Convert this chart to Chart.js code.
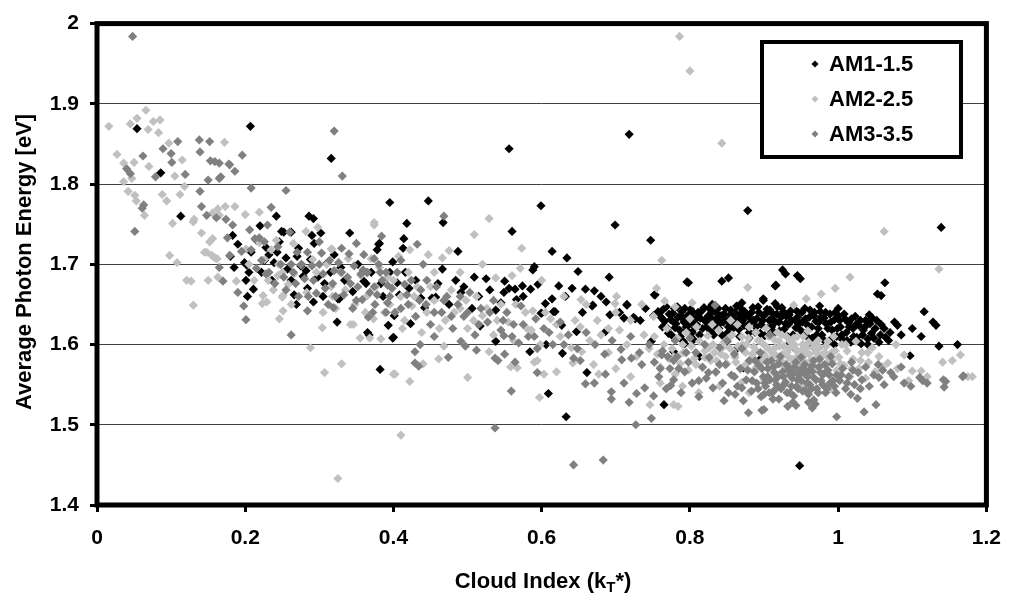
<!DOCTYPE html>
<html>
<head>
<meta charset="utf-8">
<title>Average Photon Energy vs Cloud Index</title>
<script src="https://cdn.jsdelivr.net/npm/chart.js@4.4.1/dist/chart.umd.min.js"></script>
<style>
    html, body { margin: 0; padding: 0; background: #fff; }
    #chart { display: block; }
</style>
</head>
<body>
<canvas id="chart" width="1015" height="595"></canvas>
<script>
// Series names and axis ticks
const seriesNames = ['AM1-1.5', 'AM2-2.5', 'AM3-3.5'];
const seriesColors = ['#000000', '#c0c0c0', '#808080'];
const xTicks = [0, 0.2, 0.4, 0.6, 0.8, 1, 1.2];
const yTicks = [1.4, 1.5, 1.6, 1.7, 1.8, 1.9, 2];

// AM1-1.5 : [cloud index, photon energy]
const am1Points = [
    [0.054,1.869],[0.086,1.814],[0.113,1.760],[0.207,1.872],[0.316,1.832],
    [0.556,1.844],[0.718,1.862],[0.878,1.767],[1.139,1.746],
    [0.395,1.777],[0.447,1.779],[0.599,1.773],[0.418,1.751],[0.467,1.752],[0.560,1.741],[0.699,1.749],[0.747,1.730],[0.341,1.739],
    [0.414,1.732],[0.413,1.720],[0.381,1.726],[0.378,1.718],[0.487,1.716],[0.614,1.716],[0.634,1.708],[0.399,1.703],[0.588,1.693],[0.590,1.697],
    [0.649,1.691],[0.691,1.684],[0.753,1.662],[0.525,1.682],[0.509,1.684],[0.550,1.679],[0.574,1.673],[0.585,1.669],[0.623,1.673],[0.641,1.670],
    [0.659,1.669],[0.671,1.667],[0.556,1.670],
    [0.798,1.677],[0.843,1.679],[0.852,1.683],[0.925,1.693],[0.929,1.688],[0.945,1.686],[0.949,1.682],[0.915,1.673],[0.899,1.657],[1.063,1.677],
    [1.053,1.663],[1.058,1.661],[0.899,1.655],[0.916,1.674],[1.116,1.641],[1.128,1.628],[1.132,1.624],[1.112,1.610],[1.136,1.598],[1.161,1.600],
    [1.097,1.586],[1.076,1.628],[1.080,1.624],[1.064,1.609],[1.068,1.605],[1.058,1.625],[1.042,1.637],[1.046,1.633],
    [0.948,1.449],[0.765,1.525],[0.633,1.510],[0.609,1.539],[0.661,1.565],[0.584,1.591],[0.628,1.589],[0.606,1.600],[0.778,1.591],[0.400,1.609],
    [0.423,1.626],[0.538,1.604],[0.599,1.639],[0.616,1.641],[0.627,1.624],[0.647,1.616],[0.401,1.636],[0.538,1.643],[0.517,1.623],[0.715,1.649],
    [0.668,1.648],[0.692,1.637],[0.726,1.632],[0.791,1.604],[0.793,1.601],[0.748,1.604],[0.686,1.616],
    [0.203,1.660],[0.269,1.650],[0.292,1.653],[0.324,1.628],[0.365,1.615],[0.367,1.612],[0.393,1.624],[0.399,1.608],[0.382,1.569],[0.325,1.657],
    [0.242,1.760],[0.286,1.760],[0.292,1.757],[0.220,1.748],[0.302,1.739],[0.290,1.736],[0.249,1.741],[0.252,1.740],[0.262,1.740],[0.183,1.736],
    [0.380,1.725],[0.293,1.726],[0.272,1.720],[0.243,1.715],[0.228,1.721],[0.180,1.710],[0.185,1.696],[0.199,1.702],[0.202,1.699],[0.208,1.715],
    [0.226,1.705],[0.239,1.702],[0.257,1.694],[0.275,1.698],[0.282,1.692],[0.201,1.680],[0.211,1.669],[0.262,1.680],[0.284,1.670],[0.311,1.702],
    [0.329,1.696],[0.360,1.679],[0.363,1.676],[0.327,1.657],[0.383,1.676],[0.307,1.676],
    [0.796,1.678],[0.405,1.677],[0.466,1.694],[0.484,1.680],[0.564,1.669],[0.614,1.657],[0.605,1.651],[0.618,1.641],[0.600,1.639],[0.687,1.653],
    [0.715,1.650],[0.752,1.662],[0.757,1.641],[0.457,1.659],[0.491,1.665],[0.506,1.645],[0.549,1.665],[0.566,1.656],[0.421,1.670],[0.437,1.658],
    [0.452,1.658],[0.669,1.649],
    [0.711,1.633],[0.724,1.634],[0.733,1.630],[0.751,1.636],[0.764,1.631],[0.778,1.628],[0.788,1.635],[0.797,1.630],
    [0.762,1.642],[0.766,1.629],[0.770,1.620],[0.772,1.638],[0.775,1.612],[0.779,1.645],[0.781,1.626],[0.784,1.634],[0.786,1.618],[0.789,1.641],
    [0.792,1.628],[0.795,1.622],[0.798,1.637],[0.801,1.644],[0.803,1.615],[0.806,1.631],[0.809,1.625],[0.811,1.640],[0.814,1.633],[0.817,1.620],
    [0.819,1.646],[0.822,1.628],[0.825,1.636],[0.828,1.617],[0.830,1.641],[0.833,1.624],[0.836,1.632],[0.838,1.645],[0.841,1.627],[0.844,1.611],
    [0.846,1.638],[0.849,1.630],[0.852,1.622],[0.855,1.643],[0.857,1.634],[0.860,1.626],[0.863,1.648],[0.866,1.619],[0.868,1.637],[0.871,1.630],
    [0.874,1.641],[0.877,1.623],[0.879,1.635],[0.882,1.628],[0.885,1.646],[0.888,1.615],[0.890,1.632],[0.893,1.640],[0.896,1.625],[0.899,1.636],
    [0.901,1.611],[0.904,1.644],[0.907,1.630],[0.910,1.622],[0.912,1.638],[0.915,1.628],[0.918,1.647],[0.921,1.617],[0.923,1.634],[0.926,1.641],
    [0.929,1.626],[0.932,1.610],[0.934,1.637],[0.937,1.630],[0.940,1.645],[0.943,1.621],[0.945,1.634],[0.948,1.627],[0.951,1.640],[0.954,1.614],
    [0.956,1.632],[0.959,1.624],[0.962,1.643],[0.965,1.608],[0.967,1.636],[0.970,1.629],[0.973,1.620],[0.976,1.641],[0.978,1.612],[0.981,1.633],
    [0.984,1.626],[0.987,1.604],[0.989,1.638],[0.992,1.618],[0.995,1.631],[0.998,1.610],[1.000,1.636],[1.003,1.622],[1.006,1.606],[1.009,1.632],
    [1.011,1.615],[1.014,1.627],[1.017,1.603],[1.020,1.620],[1.023,1.635],[1.025,1.609],[1.028,1.624],[1.031,1.601],[1.034,1.618],[1.037,1.630],
    [1.040,1.607],[1.045,1.614],[1.050,1.620],[1.055,1.603],
    [0.935,1.602],[0.960,1.600],[0.880,1.608],[0.850,1.604],[0.915,1.651],[0.870,1.652],[0.830,1.650],[0.975,1.648],[1.000,1.645],[0.805,1.606],
    [0.940,1.596],[0.995,1.600],[0.872,1.571],[0.896,1.583],[0.813,1.585],[0.860,1.592],[0.920,1.578],
    [0.760,1.635],[0.763,1.622],[0.768,1.647],[0.771,1.614],[0.774,1.631],[0.777,1.639],[0.780,1.621],[0.783,1.647],[0.787,1.610],[0.790,1.633],
    [0.793,1.645],[0.796,1.618],[0.800,1.626],[0.804,1.640],[0.807,1.621],[0.810,1.634],[0.813,1.612],[0.816,1.642],[0.820,1.630],[0.823,1.622],
    [0.826,1.645],[0.829,1.633],[0.832,1.612],[0.835,1.640],[0.839,1.620],[0.842,1.636],[0.845,1.628],[0.848,1.645],[0.851,1.615],[0.854,1.637],
    [0.858,1.620],[0.861,1.640],[0.864,1.631],[0.867,1.610],[0.870,1.644],[0.873,1.624],[0.876,1.636],[0.880,1.615],[0.883,1.640],[0.886,1.630],
    [0.889,1.622],[0.892,1.647],[0.895,1.614],[0.898,1.630],[0.902,1.638],[0.905,1.620],[0.908,1.643],[0.911,1.632],[0.914,1.615],[0.917,1.638],
    [0.920,1.628],[0.924,1.646],[0.927,1.619],[0.930,1.635],[0.933,1.625],[0.936,1.642],[0.939,1.612],[0.942,1.630],[0.946,1.640],[0.949,1.618],
    [0.952,1.628],[0.955,1.645],[0.958,1.610],[0.961,1.634],[0.964,1.622],[0.968,1.640],[0.971,1.612],[0.974,1.628],[0.977,1.634],[0.980,1.606],
    [0.983,1.640],[0.986,1.620],[0.990,1.628],[0.993,1.609],[0.996,1.640],[0.999,1.620],[1.002,1.630],[1.005,1.612],[1.008,1.638],[1.012,1.605],
    [1.015,1.622],[1.018,1.632],[1.021,1.610],[1.024,1.625],[1.027,1.604],[1.030,1.630],[1.033,1.612],[1.036,1.622],[1.040,1.600],[1.043,1.626],
    [1.048,1.608],[1.052,1.630],[1.057,1.612],[1.062,1.620],[1.070,1.615],[1.085,1.612],[1.100,1.620],
    [0.190,1.725],[0.205,1.690],[0.215,1.730],[0.222,1.690],[0.232,1.712],[0.236,1.680],[0.246,1.728],[0.255,1.708],[0.266,1.662],[0.270,1.710],
    [0.278,1.685],[0.288,1.706],[0.298,1.684],[0.305,1.660],[0.315,1.690],[0.320,1.712],[0.334,1.680],[0.345,1.666],[0.352,1.700],[0.370,1.690],
    [0.386,1.660],[0.395,1.690],[0.408,1.662],[0.416,1.690],[0.430,1.680],[0.442,1.646],[0.460,1.676],[0.475,1.650],[0.495,1.672],[0.515,1.660],
    [0.530,1.668],[0.545,1.652],[0.575,1.660],[0.595,1.675],[0.632,1.660],[0.655,1.640],[0.680,1.660],[0.705,1.640],[0.740,1.645]
];

// AM2-2.5
const am2Points = [
    [0.016,1.872],[0.027,1.837],[0.045,1.875],[0.054,1.882],[0.066,1.892],[0.076,1.878],[0.085,1.880],[0.083,1.864],[0.069,1.868],[0.036,1.826],
    [0.050,1.827],[0.047,1.807],[0.036,1.803],[0.070,1.822],[0.042,1.791],[0.051,1.786],[0.053,1.779],[0.064,1.761],[0.097,1.851],[0.115,1.830],
    [0.105,1.810],[0.118,1.797],[0.112,1.787],[0.088,1.787],[0.094,1.779],[0.102,1.751],[0.172,1.852],[0.130,1.753],[0.152,1.728],[0.165,1.761],
    [0.173,1.772],[0.200,1.762],[0.219,1.765],[0.148,1.715],[0.155,1.711],[0.162,1.707],[0.098,1.711],[0.108,1.702],[0.121,1.680],[0.127,1.679],
    [0.150,1.680],[0.163,1.684],[0.141,1.739],[0.131,1.756],[0.156,1.764],[0.163,1.769],[0.186,1.772],[0.156,1.732],[0.145,1.715],[0.159,1.708],
    [0.188,1.679],[0.130,1.649],
    [0.374,1.749],[0.529,1.757],[0.509,1.737],[0.573,1.720],[0.762,1.705],[0.755,1.670],[0.571,1.695],[0.447,1.712],[0.466,1.708],[0.475,1.717],
    [0.422,1.718],[0.407,1.710],[0.317,1.719],[0.538,1.683],[0.701,1.660],[0.786,1.984],[0.800,1.941],[0.843,1.851],[1.062,1.741],[1.136,1.694],
    [0.878,1.671],[0.957,1.657],[0.977,1.663],[0.996,1.670],[1.016,1.684],[0.803,1.652],[0.940,1.649],
    [1.181,1.560],[1.165,1.587],[1.154,1.580],[1.141,1.578],[1.175,1.560],[1.120,1.560],[1.112,1.567],[1.100,1.567],[1.089,1.587],[1.078,1.600],
    [1.067,1.577],[0.784,1.523],[0.778,1.525],
    [0.402,1.563],[0.422,1.554],[0.410,1.487],[0.500,1.559],[0.461,1.582],[0.440,1.576],[0.468,1.598],[0.529,1.591],[0.558,1.572],[0.567,1.571],
    [0.590,1.578],[0.594,1.580],[0.603,1.563],[0.620,1.566],[0.597,1.534],[0.670,1.575],[0.677,1.563],[0.642,1.577],[0.654,1.591],[0.746,1.525],
    [0.246,1.632],[0.251,1.642],[0.223,1.651],[0.229,1.653],[0.304,1.621],[0.288,1.596],[0.330,1.576],[0.307,1.565],[0.342,1.625],[0.346,1.625],
    [0.355,1.608],[0.368,1.608],[0.383,1.607],[0.400,1.563],[0.373,1.632],[0.250,1.659],[0.325,1.433],
    [0.231,1.680],[0.251,1.661],[0.282,1.741],[0.298,1.746],[0.316,1.719],[0.316,1.672],[0.318,1.660],[0.374,1.752],[0.370,1.707],[0.381,1.696],
    [0.392,1.684],[0.244,1.686],[0.250,1.690],[0.266,1.688],[0.291,1.706],[0.339,1.707],[0.365,1.661],[0.224,1.661],[0.201,1.719],[0.219,1.727],
    [0.235,1.718],[0.265,1.726],[0.242,1.730],
    [0.410,1.660],[0.425,1.648],[0.432,1.672],[0.445,1.640],[0.455,1.655],[0.470,1.630],[0.478,1.668],[0.490,1.645],[0.500,1.620],[0.512,1.660],
    [0.520,1.636],[0.535,1.612],[0.545,1.650],[0.555,1.628],[0.562,1.605],[0.578,1.640],[0.586,1.618],[0.598,1.600],[0.612,1.632],[0.625,1.610],
    [0.640,1.596],[0.652,1.622],[0.665,1.605],[0.680,1.612],[0.690,1.590],[0.705,1.618],[0.715,1.600],[0.728,1.585],[0.738,1.612],[0.745,1.595],
    [0.520,1.700],[0.490,1.690],[0.560,1.686],[0.600,1.680],[0.630,1.660],[0.660,1.650],[0.700,1.640],[0.735,1.650],[0.455,1.690],[0.420,1.690],
    [0.395,1.650],[0.415,1.630],[0.653,1.656],[0.766,1.654],[0.780,1.647],[0.751,1.635],[0.588,1.642],[0.699,1.651],
    [0.752,1.610],[0.756,1.588],[0.760,1.572],[0.765,1.600],[0.769,1.620],[0.772,1.582],[0.776,1.595],[0.780,1.563],[0.783,1.608],[0.787,1.576],
    [0.791,1.590],[0.795,1.615],[0.798,1.568],[0.802,1.598],[0.806,1.583],[0.809,1.622],[0.813,1.604],[0.817,1.571],[0.820,1.592],[0.824,1.611],
    [0.828,1.580],[0.831,1.600],[0.835,1.565],[0.839,1.618],[0.842,1.588],[0.846,1.603],[0.850,1.576],[0.853,1.596],[0.857,1.612],[0.861,1.584],
    [0.864,1.625],[0.868,1.570],[0.871,1.600],[0.875,1.590],[0.879,1.608],[0.882,1.580],[0.886,1.597],[0.889,1.615],[0.893,1.574],[0.896,1.603],
    [0.900,1.588],[0.903,1.620],[0.907,1.594],[0.910,1.578],[0.914,1.606],[0.917,1.586],[0.921,1.598],[0.924,1.612],[0.928,1.572],[0.931,1.590],
    [0.935,1.604],[0.938,1.582],[0.942,1.595],[0.945,1.610],[0.949,1.576],[0.952,1.600],[0.956,1.588],[0.959,1.617],[0.963,1.580],[0.966,1.596],
    [0.970,1.571],[0.973,1.605],[0.977,1.586],[0.980,1.563],[0.984,1.598],[0.987,1.578],[0.991,1.590],[0.994,1.610],[0.998,1.568],[1.001,1.584],
    [1.005,1.600],[1.008,1.574],[1.012,1.592],[1.016,1.560],[1.020,1.582],[1.024,1.604],[1.028,1.570],[1.032,1.590],[1.037,1.558],[1.041,1.578],
    [1.046,1.596],[1.050,1.566],[1.055,1.585],[1.060,1.572],
    [0.875,1.575],[0.905,1.582],[0.925,1.588],[0.945,1.585],[0.955,1.578],[0.935,1.596],[0.915,1.596],[0.890,1.592],[0.960,1.603],[0.940,1.608],
    [0.918,1.615],[0.880,1.622],[0.855,1.630],[0.830,1.625],[0.800,1.632],[0.970,1.590],[0.985,1.585],[0.865,1.598],[0.848,1.585],[0.910,1.570],
    [0.812,1.540],[0.840,1.548],[0.870,1.553],[0.900,1.556],[0.955,1.549],[0.990,1.545],[0.790,1.548],[0.760,1.552],[0.880,1.540],[1.080,1.570],
    [1.095,1.555],[0.700,1.570],[0.720,1.560],
    [0.862,1.578],[0.870,1.610],[0.876,1.600],[0.884,1.588],[0.888,1.570],[0.892,1.605],[0.898,1.580],[0.902,1.598],[0.906,1.610],[0.912,1.588],
    [0.916,1.575],[0.920,1.604],[0.923,1.580],[0.927,1.598],[0.930,1.610],[0.933,1.584],[0.937,1.575],[0.941,1.600],[0.944,1.592],[0.947,1.570],
    [0.950,1.592],[0.953,1.610],[0.957,1.596],[0.961,1.588],[0.964,1.574],[0.968,1.600],[0.972,1.582],[0.975,1.596],[0.979,1.575],[0.982,1.590],
    [0.986,1.604],[0.992,1.580],[0.996,1.592],[1.003,1.576],[1.010,1.600],[1.018,1.570],[1.030,1.580],[1.040,1.590],[0.820,1.584],[0.826,1.596],
    [0.836,1.580],[0.844,1.596],[0.852,1.608],[0.858,1.592],[0.790,1.600],[0.778,1.585],[0.808,1.575],[0.833,1.590],
    [0.205,1.700],[0.212,1.680],[0.226,1.706],[0.238,1.668],[0.245,1.700],[0.258,1.675],[0.262,1.650],[0.275,1.700],[0.283,1.665],[0.296,1.690],
    [0.305,1.640],[0.310,1.700],[0.322,1.645],[0.328,1.690],[0.335,1.668],[0.348,1.650],[0.356,1.686],[0.362,1.640],[0.376,1.672],[0.388,1.640],
    [0.400,1.680],[0.412,1.620],[0.428,1.660],[0.438,1.615],[0.450,1.672],[0.462,1.620],[0.482,1.640],[0.498,1.655],[0.508,1.630],[0.526,1.645],
    [0.540,1.630],[0.565,1.650],[0.580,1.620],[0.605,1.640],[0.620,1.625],[0.645,1.630],[0.675,1.630],[0.690,1.620],[0.720,1.630]
];

// AM3-3.5
const am3Points = [
    [0.048,1.984],[0.062,1.835],[0.040,1.819],[0.045,1.813],[0.079,1.809],[0.089,1.844],[0.100,1.838],[0.101,1.827],[0.109,1.853],[0.119,1.812],
    [0.138,1.855],[0.139,1.840],[0.152,1.853],[0.153,1.829],[0.165,1.807],[0.165,1.826],[0.178,1.825],[0.186,1.816],[0.196,1.836],[0.208,1.795],
    [0.255,1.792],[0.141,1.772],[0.139,1.791],[0.148,1.761],[0.161,1.758],[0.051,1.741],[0.320,1.866],[0.063,1.774],[0.061,1.770],[0.235,1.771],
    [0.331,1.810],[0.159,1.828],[0.179,1.824],[0.167,1.809],[0.150,1.805],[0.174,1.756],[0.183,1.749],[0.176,1.733],[0.206,1.743],[0.230,1.749],
    [0.260,1.740],[0.179,1.711],[0.195,1.716],[0.213,1.732],[0.219,1.733],[0.226,1.728],[0.284,1.715],[0.303,1.714],[0.320,1.692],[0.350,1.726],
    [0.340,1.713],[0.347,1.698],[0.359,1.693],[0.364,1.690],[0.374,1.707],[0.374,1.672],[0.390,1.690],[0.392,1.674],[0.384,1.735],[0.165,1.696],
    [0.170,1.679],[0.190,1.665],[0.468,1.760],[0.432,1.725],
    [0.198,1.648],[0.201,1.631],[0.262,1.612],[0.284,1.642],[0.319,1.646],[0.366,1.634],[0.390,1.640],
    [0.429,1.591],[0.429,1.577],[0.434,1.573],[0.474,1.584],[0.537,1.496],[0.559,1.542],[0.594,1.565],[0.537,1.583],[0.541,1.580],[0.550,1.588],
    [0.564,1.578],[0.659,1.551],[0.671,1.552],[0.686,1.563],[0.694,1.541],[0.694,1.532],[0.711,1.552],[0.718,1.528],[0.728,1.539],[0.739,1.546],
    [0.751,1.536],[0.727,1.500],[0.748,1.508],[0.774,1.549],[0.778,1.580],[0.436,1.600],[0.455,1.610],[0.491,1.604],[0.497,1.598],[0.512,1.593],
    [0.549,1.611],[0.569,1.602],[0.594,1.595],[0.643,1.583],[0.652,1.580],[0.708,1.581],[0.721,1.583],[0.735,1.575],[0.762,1.587],
    [0.643,1.450],[0.683,1.456],
    [0.879,1.515],[0.965,1.521],[0.998,1.510],[1.035,1.516],[1.051,1.525],[1.026,1.533],[1.017,1.538],[1.143,1.547],[1.142,1.556],[1.169,1.561],
    [1.089,1.552],[1.110,1.559],[1.114,1.555],[1.062,1.550],[1.071,1.565],[1.055,1.559],[0.846,1.530],[0.861,1.538],[0.939,1.528],[0.943,1.524],
    [0.967,1.531],[0.900,1.519],[0.912,1.532],[0.897,1.518],[0.932,1.523],[0.969,1.526],[0.960,1.528],[1.145,1.554],[1.168,1.560],
    [0.215,1.695],[0.228,1.688],[0.240,1.676],[0.248,1.700],[0.255,1.668],[0.265,1.690],[0.272,1.660],[0.280,1.682],[0.290,1.698],[0.296,1.664],
    [0.305,1.688],[0.312,1.650],[0.318,1.676],[0.326,1.702],[0.333,1.662],[0.338,1.684],[0.345,1.645],[0.352,1.672],[0.358,1.656],[0.365,1.690],
    [0.372,1.640],[0.378,1.662],[0.385,1.680],[0.392,1.652],[0.398,1.670],[0.405,1.690],[0.410,1.645],[0.418,1.662],[0.424,1.680],[0.430,1.635],
    [0.437,1.668],[0.444,1.650],[0.450,1.625],[0.458,1.672],[0.465,1.640],[0.472,1.660],[0.480,1.620],[0.487,1.650],[0.495,1.635],[0.503,1.665],
    [0.510,1.612],[0.518,1.645],[0.527,1.628],[0.535,1.655],[0.545,1.618],[0.553,1.640],[0.562,1.625],[0.572,1.648],[0.582,1.610],[0.592,1.632],
    [0.603,1.620],[0.615,1.600],[0.625,1.628],[0.636,1.612],[0.648,1.595],[0.660,1.615],[0.672,1.600],[0.685,1.588],[0.695,1.605],[0.707,1.594],
    [0.720,1.610],[0.732,1.590],[0.745,1.600],[0.410,1.705],[0.440,1.700],[0.380,1.700],[0.360,1.712],[0.330,1.720],[0.300,1.728],[0.270,1.715],
    [0.752,1.578],[0.758,1.560],[0.763,1.592],[0.768,1.545],[0.773,1.570],[0.778,1.556],[0.783,1.585],[0.788,1.540],[0.793,1.566],[0.798,1.578],
    [0.803,1.552],[0.808,1.590],[0.812,1.535],[0.817,1.572],[0.822,1.558],[0.826,1.584],[0.831,1.546],[0.835,1.566],[0.840,1.596],[0.844,1.552],
    [0.848,1.575],[0.852,1.540],[0.856,1.562],[0.860,1.588],[0.864,1.548],[0.868,1.570],[0.872,1.530],[0.876,1.556],[0.880,1.580],[0.883,1.542],
    [0.887,1.566],[0.890,1.552],[0.893,1.574],[0.896,1.535],[0.899,1.560],[0.902,1.548],[0.905,1.570],[0.908,1.556],[0.911,1.540],[0.914,1.565],
    [0.917,1.550],[0.920,1.576],[0.923,1.545],[0.926,1.560],[0.929,1.553],[0.932,1.568],[0.935,1.540],[0.938,1.558],[0.941,1.572],[0.944,1.548],
    [0.947,1.562],[0.950,1.555],[0.953,1.570],[0.956,1.543],[0.959,1.560],[0.962,1.550],[0.965,1.566],[0.968,1.558],[0.971,1.545],[0.974,1.572],
    [0.977,1.555],[0.980,1.563],[0.983,1.540],[0.986,1.568],[0.989,1.552],[0.992,1.576],[0.995,1.548],[0.998,1.562],[1.002,1.555],[1.006,1.570],
    [1.010,1.545],[1.014,1.560],[1.018,1.578],[1.022,1.550],[1.027,1.565],[1.032,1.556],[1.037,1.572],[1.042,1.548],[1.048,1.562],[1.054,1.575],
    [1.060,1.568],[1.075,1.560],[1.085,1.572],[1.098,1.548],[1.120,1.552],
    [0.905,1.560],[0.915,1.556],[0.925,1.566],[0.935,1.562],[0.945,1.556],[0.955,1.563],[0.965,1.574],[0.930,1.575],[0.910,1.580],[0.950,1.584],
    [0.895,1.590],[0.870,1.595],[0.990,1.585],[0.975,1.582],[0.900,1.538],[0.920,1.532],[0.940,1.536],[0.960,1.538],[0.850,1.605],[0.820,1.600],
    [0.780,1.605],[0.800,1.608],[0.834,1.649],[0.908,1.612],
    [0.870,1.546],[0.878,1.568],[0.884,1.555],[0.888,1.580],[0.892,1.545],[0.897,1.570],[0.901,1.552],[0.904,1.578],[0.907,1.540],[0.913,1.572],
    [0.916,1.545],[0.919,1.560],[0.922,1.585],[0.927,1.550],[0.931,1.540],[0.934,1.570],[0.937,1.548],[0.940,1.565],[0.943,1.578],[0.946,1.545],
    [0.949,1.568],[0.952,1.542],[0.955,1.575],[0.958,1.552],[0.961,1.568],[0.964,1.545],[0.967,1.580],[0.970,1.556],[0.973,1.540],[0.976,1.565],
    [0.979,1.550],[0.982,1.575],[0.985,1.545],[0.988,1.562],[0.993,1.555],[0.997,1.540],[1.004,1.562],[1.012,1.552],[1.020,1.568],[1.030,1.545],
    [0.860,1.560],[0.840,1.575],[0.825,1.565],[0.812,1.555],[0.795,1.590],[0.785,1.570],[0.770,1.585],[0.760,1.570],
    [0.208,1.718],[0.222,1.705],[0.232,1.690],[0.244,1.722],[0.252,1.684],[0.262,1.700],[0.268,1.676],[0.276,1.700],[0.285,1.660],[0.292,1.680],
    [0.300,1.700],[0.308,1.670],[0.314,1.705],[0.322,1.660],[0.330,1.690],[0.342,1.676],[0.350,1.655],[0.356,1.688],[0.368,1.665],[0.375,1.650],
    [0.382,1.690],[0.395,1.660],[0.402,1.640],[0.415,1.675],[0.420,1.650],[0.435,1.655],[0.445,1.680],[0.455,1.640],[0.468,1.655],[0.478,1.635],
    [0.490,1.660],[0.500,1.640],[0.515,1.625],[0.530,1.640],[0.548,1.630],[0.560,1.610],[0.575,1.625],[0.590,1.610],[0.610,1.615],[0.630,1.600]
];

const FONT = '"Liberation Sans", Arial, sans-serif';

function toXY(points) {
    return points.map(p => ({ x: p[0], y: p[1] }));
}

function fmt(v) {
    return String(+v.toFixed(1));
}

// Thick frame around the plot area, legend box and axis titles
const framePlugin = {
    id: 'frame',
    afterDatasetsDraw(chart) {
        const a = chart.chartArea;
        const ctx = chart.ctx;
        ctx.save();
        ctx.strokeStyle = '#000';
        ctx.lineWidth = 5;
        ctx.strokeRect(a.left, a.top, a.right - a.left, a.bottom - a.top);
        ctx.restore();
    },
    afterDraw(chart) {
        const ctx = chart.ctx;
        ctx.save();

        // legend
        ctx.fillStyle = '#fff';
        ctx.fillRect(762, 42, 199, 115);
        ctx.strokeStyle = '#000';
        ctx.lineWidth = 4;
        ctx.strokeRect(762, 42, 199, 115);
        const rows = [64, 99, 134];
        seriesNames.forEach((name, i) => {
            const y = rows[i];
            ctx.fillStyle = seriesColors[i];
            ctx.beginPath();
            ctx.moveTo(815, y - 3.5);
            ctx.lineTo(818.5, y);
            ctx.lineTo(815, y + 3.5);
            ctx.lineTo(811.5, y);
            ctx.closePath();
            ctx.fill();
            ctx.fillStyle = '#000';
            ctx.font = 'bold 22px ' + FONT;
            ctx.textAlign = 'left';
            ctx.textBaseline = 'middle';
            ctx.fillText(name, 829, y + 1);
        });

        // y axis title
        ctx.save();
        ctx.translate(31, 262);
        ctx.rotate(-Math.PI / 2);
        ctx.font = 'bold 22px ' + FONT;
        ctx.textAlign = 'center';
        ctx.textBaseline = 'alphabetic';
        ctx.fillStyle = '#000';
        ctx.fillText('Average Photon Energy [eV]', 0, 0);
        ctx.restore();

        // x axis title with subscript T
        const big = 'bold 22px ' + FONT;
        const small = 'bold 15px ' + FONT;
        const p1 = 'Cloud Index (k', p2 = 'T', p3 = '*)';
        ctx.font = big;
        const w1 = ctx.measureText(p1).width;
        const w3 = ctx.measureText(p3).width;
        ctx.font = small;
        const w2 = ctx.measureText(p2).width;
        let x = 543 - (w1 + w2 + w3) / 2;
        const base = 588;
        ctx.textAlign = 'left';
        ctx.textBaseline = 'alphabetic';
        ctx.fillStyle = '#000';
        ctx.font = big;
        ctx.fillText(p1, x, base);
        x += w1;
        ctx.font = small;
        ctx.fillText(p2, x, base + 4);
        x += w2;
        ctx.font = big;
        ctx.fillText(p3, x, base);
        ctx.restore();
    }
};

function makeDataset(i, points) {
    return {
        label: seriesNames[i],
        data: toXY(points),
        backgroundColor: seriesColors[i],
        borderColor: seriesColors[i],
        borderWidth: 0,
        pointStyle: 'rectRot',
        pointRadius: 4.6,
        pointHoverRadius: 4.6,
        order: 3 - i
    };
}

const ctx = document.getElementById('chart').getContext('2d');
const chart = new Chart(ctx, {
    type: 'scatter',
    data: {
        datasets: [
            makeDataset(0, am1Points),
            makeDataset(1, am2Points),
            makeDataset(2, am3Points)
        ]
    },
    options: {
        responsive: false,
        animation: false,
        devicePixelRatio: 1,
        layout: { padding: { top: 19, right: 26, left: 0, bottom: 0 } },
        plugins: {
            legend: { display: false },
            tooltip: { enabled: false }
        },
        scales: {
            x: {
                type: 'linear',
                min: 0,
                max: 1.2,
                afterBuildTicks: s => { s.ticks = xTicks.map(v => ({ value: v })); },
                afterFit: s => { s.height = 90; },
                ticks: {
                    callback: v => fmt(v),
                    color: '#000',
                    padding: 14,
                    maxRotation: 0,
                    font: { family: FONT, size: 21, weight: 'bold' }
                },
                grid: {
                    drawOnChartArea: false,
                    tickLength: 7,
                    tickWidth: 3,
                    tickColor: '#000'
                },
                border: { display: false }
            },
            y: {
                type: 'linear',
                min: 1.4,
                max: 2,
                afterBuildTicks: s => { s.ticks = yTicks.map(v => ({ value: v })); },
                afterFit: s => { s.width = 97; },
                ticks: {
                    callback: v => fmt(v),
                    color: '#000',
                    padding: 11,
                    font: { family: FONT, size: 21, weight: 'bold' }
                },
                grid: {
                    color: '#404040',
                    lineWidth: 1,
                    tickLength: 7,
                    tickWidth: 3,
                    tickColor: '#000'
                },
                border: { display: false }
            }
        }
    },
    plugins: [framePlugin]
});
</script>
</body>
</html>
